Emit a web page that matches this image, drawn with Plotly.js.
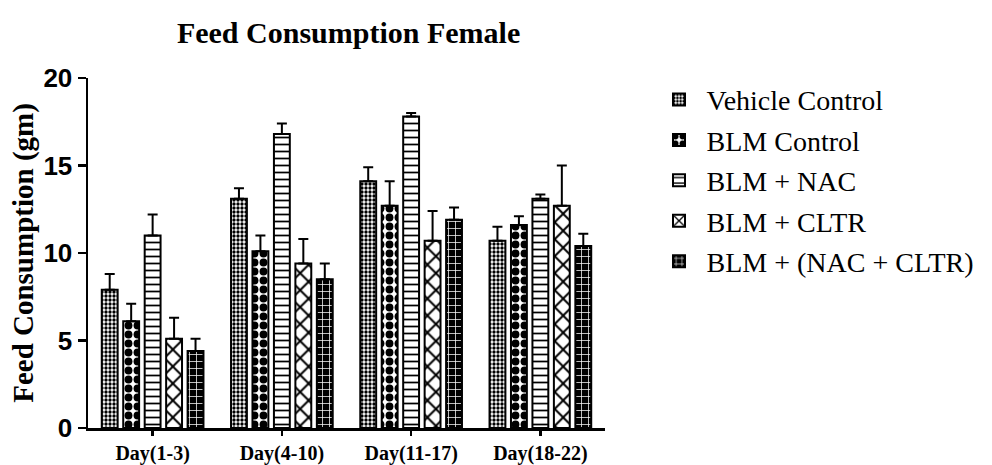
<!DOCTYPE html>
<html>
<head>
<meta charset="utf-8">
<script src="https://cdn.plot.ly/plotly-3.0.1.min.js"></script>
<style>html,body{margin:0;padding:0;background:#fff;}#chart{width:992px;height:465px;}</style>
</head>
<body>
<div id="chart"></div>
<script>
const categories = ["Day(1-3)", "Day(4-10)", "Day(11-17)", "Day(18-22)"];
const seriesNames = ["Vehicle Control", "BLM Control", "BLM + NAC", "BLM + CLTR", "BLM + (NAC + CLTR)"];
const vehicleControl = [7.9, 13.1, 14.1, 10.7];
const vehicleControlErr = [0.9, 0.6, 0.8, 0.8];
const blmControl = [6.1, 10.1, 12.7, 11.6];
const blmControlErr = [1.0, 0.9, 1.4, 0.5];
const blmNac = [11.0, 16.8, 17.8, 13.1];
const blmNacErr = [1.2, 0.6, 0.2, 0.25];
const blmCltr = [5.1, 9.4, 10.7, 12.7];
const blmCltrErr = [1.2, 1.4, 1.7, 2.3];
const blmNacCltr = [4.4, 8.5, 11.9, 10.4];
const blmNacCltrErr = [0.7, 0.9, 0.7, 0.7];

const values = [vehicleControl, blmControl, blmNac, blmCltr, blmNacCltr];
const errors = [vehicleControlErr, blmControlErr, blmNacErr, blmCltrErr, blmNacCltrErr];
const patterns = [
  {shape: ".", fgcolor: "#000", bgcolor: "#fff", size: 4, solidity: 0.55, fillmode: "replace"},
  {shape: ".", fgcolor: "#000", bgcolor: "#fff", size: 9, solidity: 0.6, fillmode: "replace"},
  {shape: "-", fgcolor: "#000", bgcolor: "#fff", size: 7, solidity: 0.25, fillmode: "replace"},
  {shape: "x", fgcolor: "#000", bgcolor: "#fff", size: 12, solidity: 0.3, fillmode: "replace"},
  {shape: "+", fgcolor: "#fff", bgcolor: "#000", size: 7, solidity: 0.2, fillmode: "replace"}
];
const fills = ["#fff", "#fff", "#fff", "#fff", "#000"];

const traces = seriesNames.map((name, i) => ({
  type: "bar",
  name: name,
  legendgroup: "g" + i,
  x: categories,
  y: values[i],
  marker: {color: fills[i], line: {color: "#000", width: 2}, pattern: patterns[i]},
  error_y: {type: "data", symmetric: false, array: errors[i], arrayminus: errors[i].map(() => 0),
            color: "#000", thickness: 2, width: 5}
}));

const serif = "Liberation Serif, Times New Roman, serif";
const layout = {
  width: 992, height: 465,
  margin: {l: 88, r: 384, t: 78, b: 37},
  paper_bgcolor: "#fff", plot_bgcolor: "#fff",
  barmode: "group", bargap: 0.17, bargroupgap: 0.26,
  showlegend: true,
  title: {text: "<b>Feed Consumption Female</b>", xref: "paper", x: 0.504, xanchor: "center",
          y: 0.931, yanchor: "middle",
          font: {family: serif, size: 30, color: "#000"}},
  xaxis: {
    range: [-0.5, 3.5], showline: true, linecolor: "#000", linewidth: 2.5,
    ticks: "outside", ticklen: 5, tickwidth: 2.5, tickcolor: "#000",
    showgrid: false, zeroline: false, fixedrange: true, automargin: false,
    tickfont: {family: serif, size: 20, color: "#000", weight: "bold"}
  },
  yaxis: {
    range: [0, 20], dtick: 5, showline: true, linecolor: "#000", linewidth: 2.5,
    ticks: "outside", ticklen: 8, tickwidth: 2.5, tickcolor: "#000",
    showgrid: false, zeroline: false, automargin: false,
    tickfont: {family: "Liberation Sans, Arial, sans-serif", size: 26, color: "#000", weight: "bold"},
    title: {text: "<b>Feed Consumption (gm)</b>", standoff: 1,
            font: {family: serif, size: 29, color: "#000"}}
  },
  legend: {x: 1.09, xanchor: "left", y: 1.009, yanchor: "top", tracegroupgap: 1, itemwidth: 45,
           font: {family: serif, size: 28, color: "#000"},
           bgcolor: "rgba(0,0,0,0)"}
};

Plotly.newPlot("chart", traces, layout, {displayModeBar: false, staticPlot: true});
</script>
</body>
</html>
